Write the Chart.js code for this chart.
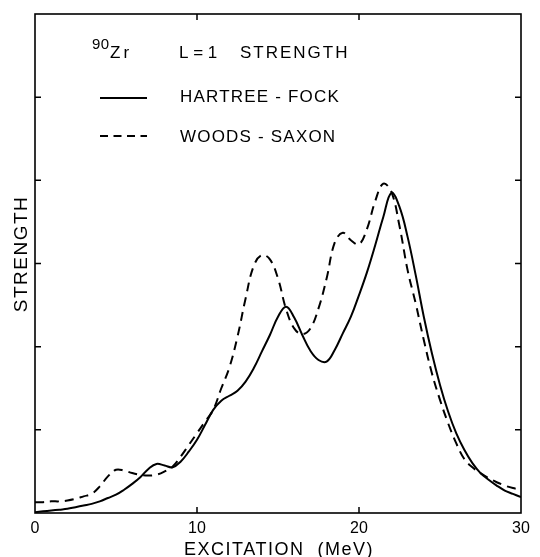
<!DOCTYPE html>
<html>
<head>
<meta charset="utf-8">
<script src="https://cdn.jsdelivr.net/npm/chart.js@4.4.1/dist/chart.umd.min.js"></script>
<style>
    html, body { margin: 0; padding: 0; background: #fff; }
    #wrap { width: 540px; height: 557px; }
</style>
</head>
<body>
<div id="wrap"><canvas id="strengthChart" width="540" height="557"></canvas></div>
<script>
// excitation energy (MeV)
const energy = [
    0, 0.5, 1, 1.5, 2, 2.5, 3, 3.5, 4, 4.5,
    5, 5.5, 6, 6.5, 7, 7.5, 8, 8.5, 9, 9.5,
    10, 10.5, 11, 11.5, 12, 12.5, 13, 13.5, 14, 14.5,
    15, 15.5, 16, 16.5, 17, 17.5, 18, 18.5, 19, 19.5,
    20, 20.5, 21, 21.5, 22, 22.5, 23, 23.5, 24, 24.5,
    25, 25.5, 26, 26.5, 27, 27.5, 28, 28.5, 29, 29.5, 30
];
// L=1 strength, arbitrary units
const hartreeFock = [
    0.01, 0.02, 0.03, 0.04, 0.05, 0.07, 0.09, 0.11, 0.14, 0.18,
    0.22, 0.28, 0.35, 0.43, 0.53, 0.59, 0.57, 0.55, 0.62, 0.74,
    0.88, 1.06, 1.24, 1.35, 1.41, 1.47, 1.58, 1.74, 1.94, 2.14,
    2.36, 2.48, 2.35, 2.14, 1.95, 1.84, 1.82, 1.96, 2.16, 2.36,
    2.62, 2.90, 3.22, 3.56, 3.85, 3.68, 3.32, 2.86, 2.36, 1.92,
    1.54, 1.22, 0.96, 0.76, 0.60, 0.48, 0.40, 0.33, 0.27, 0.23, 0.19
];
const woodsSaxon = [
    0.13, 0.13, 0.14, 0.14, 0.15, 0.17, 0.20, 0.23, 0.32, 0.44,
    0.52, 0.51, 0.48, 0.46, 0.45, 0.46, 0.50, 0.56, 0.68, 0.82,
    0.96, 1.10, 1.24, 1.50, 1.75, 2.12, 2.58, 2.97, 3.10, 3.05,
    2.82, 2.45, 2.22, 2.15, 2.22, 2.46, 2.82, 3.25, 3.37, 3.28,
    3.23, 3.42, 3.75, 3.96, 3.86, 3.45, 2.92, 2.52, 2.08, 1.68,
    1.36, 1.08, 0.84, 0.65, 0.55, 0.48, 0.42, 0.37, 0.33, 0.30, 0.28
];
const xTicks = [0, 10, 20, 30];
const yTicks = [0, 1, 2, 3, 4, 5, 6];

const FONT = '"Liberation Sans", Arial, sans-serif';

function spacedText(ctx, text, x, y, size, spacing, align) {
    ctx.font = size + "px " + FONT;
    ctx.letterSpacing = spacing + "px";
    ctx.textAlign = align || "left";
    ctx.fillText(text, x, y);
    ctx.letterSpacing = "0px";
}

// frame, inward ticks, legend and axis titles
const decorations = {
    id: "decorations",
    afterDraw(chart) {
        const ctx = chart.ctx;
        const a = chart.chartArea;
        const xs = chart.scales.x, ys = chart.scales.y;
        ctx.save();
        ctx.strokeStyle = "#000";
        ctx.fillStyle = "#000";
        ctx.lineWidth = 1.6;
        ctx.strokeRect(a.left, a.top, a.right - a.left, a.bottom - a.top);

        ctx.lineWidth = 1.5;
        ctx.beginPath();
        xTicks.slice(1, -1).forEach(v => {
            const px = xs.getPixelForValue(v);
            ctx.moveTo(px, a.bottom); ctx.lineTo(px, a.bottom - 6);
            ctx.moveTo(px, a.top); ctx.lineTo(px, a.top + 6);
        });
        yTicks.slice(1, -1).forEach(v => {
            const py = ys.getPixelForValue(v);
            ctx.moveTo(a.left, py); ctx.lineTo(a.left + 6, py);
            ctx.moveTo(a.right, py); ctx.lineTo(a.right - 6, py);
        });
        ctx.stroke();

        // legend
        ctx.textBaseline = "alphabetic";
        spacedText(ctx, "90", 92, 49, 15, 0.5);
        spacedText(ctx, "Zr", 110, 58, 17, 3);
        spacedText(ctx, "L = 1", 179, 58, 17, 0);
        spacedText(ctx, "STRENGTH", 240, 58, 17, 2);
        spacedText(ctx, "HARTREE - FOCK", 180, 102, 17, 1.2);
        spacedText(ctx, "WOODS - SAXON", 180, 142, 17, 1.2);

        ctx.lineWidth = 1.8;
        ctx.beginPath();
        ctx.moveTo(100, 98); ctx.lineTo(147, 98);
        ctx.stroke();
        ctx.setLineDash([8, 5.5]);
        ctx.beginPath();
        ctx.moveTo(100, 136); ctx.lineTo(147, 136);
        ctx.stroke();
        ctx.setLineDash([]);

        // axis titles
        spacedText(ctx, "EXCITATION  (MeV)", 279, 555, 18, 1.5, "center");
        ctx.save();
        ctx.translate(27, 254);
        ctx.rotate(-Math.PI / 2);
        spacedText(ctx, "STRENGTH", 0, 0, 19, 1.5, "center");
        ctx.restore();
        ctx.restore();
    }
};

const ctx = document.getElementById("strengthChart").getContext("2d");
new Chart(ctx, {
    type: "line",
    data: {
        datasets: [{
            label: "HARTREE-FOCK",
            data: energy.map((e, i) => ({ x: e, y: hartreeFock[i] })),
            borderColor: "#000",
            borderWidth: 2,
            pointRadius: 0,
            tension: 0.4,
            fill: false
        }, {
            label: "WOODS-SAXON",
            data: energy.map((e, i) => ({ x: e, y: woodsSaxon[i] })),
            borderColor: "#000",
            borderWidth: 2,
            borderDash: [9, 6],
            pointRadius: 0,
            tension: 0.4,
            fill: false
        }]
    },
    options: {
        responsive: false,
        maintainAspectRatio: false,
        animation: false,
        layout: { padding: { top: 14, right: 19, left: 0, bottom: 0 } },
        plugins: {
            legend: { display: false },
            tooltip: { enabled: false }
        },
        scales: {
            x: {
                type: "linear",
                min: 0,
                max: 30,
                afterBuildTicks: s => { s.ticks = xTicks.map(v => ({ value: v })); },
                afterFit: s => { s.height = 44; },
                grid: { display: false, drawTicks: false },
                border: { display: false },
                ticks: {
                    color: "#000",
                    padding: 6,
                    font: { family: FONT, size: 16 }
                }
            },
            y: {
                min: 0,
                max: 6,
                afterBuildTicks: s => { s.ticks = yTicks.map(v => ({ value: v })); },
                afterFit: s => { s.width = 35; },
                grid: { display: false },
                border: { display: false },
                ticks: { display: false }
            }
        }
    },
    plugins: [decorations]
});
</script>
</body>
</html>
